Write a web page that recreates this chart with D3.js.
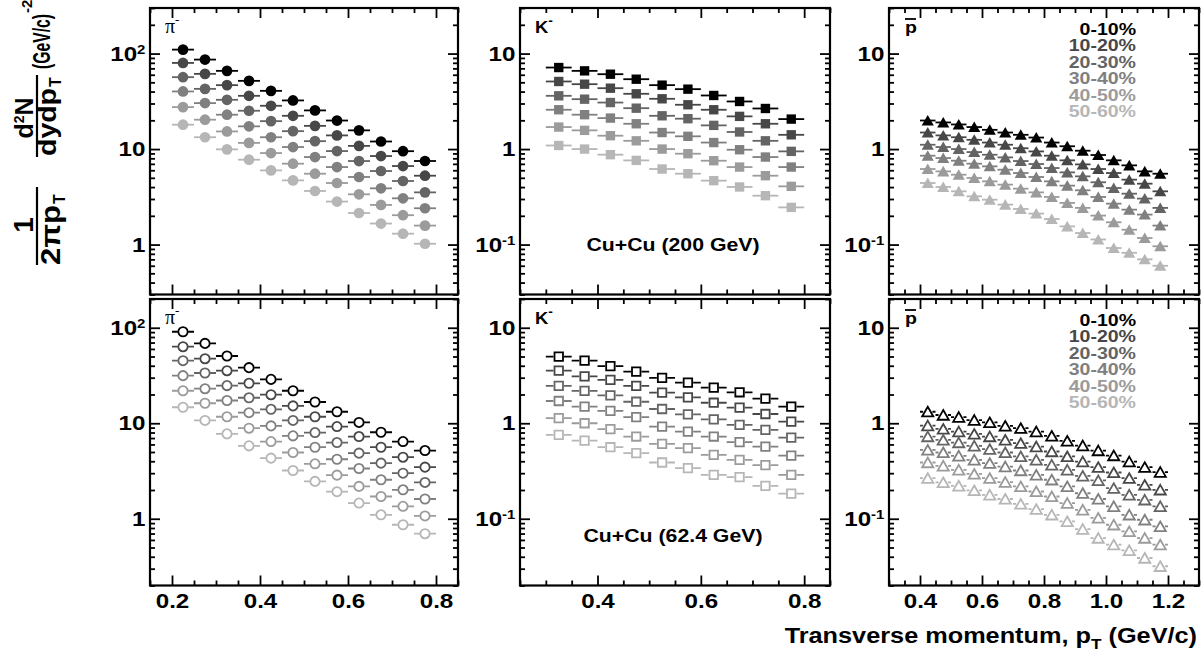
<!DOCTYPE html>
<html>
<head>
<meta charset="utf-8">
<script src="https://cdn.jsdelivr.net/npm/d3@7"></script>
<style>
  body { margin: 0; background: #ffffff; }
  svg text { font-family: "Liberation Sans", Arial, Helvetica, sans-serif; font-weight: bold; }
</style>
</head>
<body>
<svg id="chart" width="1202" height="668"></svg>
<script>
// centrality classes and the grey used for each
var centralities = ["0-10%", "10-20%", "20-30%", "30-40%", "40-50%", "50-60%"];
var shades = ["#000000", "#474747", "#646464", "#808080", "#9b9b9b", "#b6b6b6"];
var energies = ["Cu+Cu (200 GeV)", "Cu+Cu (62.4 GeV)"];

// bin centres (GeV/c)
var ptPi = [0.225, 0.275, 0.325, 0.375, 0.425, 0.475, 0.525, 0.575, 0.625, 0.675, 0.725, 0.775];
var ptK = [0.325, 0.375, 0.425, 0.475, 0.525, 0.575, 0.625, 0.675, 0.725, 0.775];
var ptP = [0.425, 0.475, 0.525, 0.575, 0.625, 0.675, 0.725, 0.775, 0.825, 0.875, 0.925, 0.975, 1.025, 1.075, 1.125, 1.175];

// yields, one row per centrality class
var piMinus200 = [
  [110, 86.5, 65.9, 51.8, 40.7, 32.3, 25.4, 19.9, 15.7, 12.0, 9.5, 7.5],
  [79.8, 61.3, 46.7, 36.1, 28.4, 22.3, 17.5, 13.9, 10.8, 8.45, 6.64, 5.26],
  [56.6, 42.7, 32.8, 25.2, 19.6, 15.4, 12.1, 9.53, 7.49, 5.89, 4.63, 3.52],
  [40.1, 30.3, 22.9, 17.3, 13.3, 10.5, 8.25, 6.48, 5.10, 3.88, 3.05, 2.40],
  [27.5, 20.3, 15.3, 11.6, 9.08, 7.03, 5.52, 4.41, 3.36, 2.60, 2.03, 1.58],
  [18.0, 13.3, 9.93, 7.74, 5.98, 4.70, 3.64, 2.82, 2.14, 1.66, 1.30, 1.02]
];
var kMinus200 = [
  [7.14, 6.59, 6.08, 5.39, 4.67, 4.24, 3.64, 3.15, 2.66, 2.06],
  [5.10, 4.78, 4.34, 3.79, 3.36, 2.91, 2.58, 2.20, 1.84, 1.41],
  [3.61, 3.33, 3.07, 2.68, 2.23, 2.08, 1.77, 1.51, 1.22, 0.946],
  [2.58, 2.29, 2.11, 1.84, 1.49, 1.36, 1.17, 0.984, 0.825, 0.648],
  [1.70, 1.57, 1.38, 1.22, 1.00, 0.894, 0.755, 0.648, 0.526, 0.407],
  [1.09, 1.00, 0.873, 0.761, 0.618, 0.552, 0.467, 0.401, 0.325, 0.245]
];
var pbar200 = [
  [1.99, 1.90, 1.81, 1.70, 1.59, 1.49, 1.41, 1.32, 1.17, 1.07, 0.961, 0.866, 0.762, 0.675, 0.584, 0.552],
  [1.49, 1.39, 1.33, 1.25, 1.17, 1.11, 1.02, 0.945, 0.852, 0.762, 0.691, 0.618, 0.561, 0.478, 0.434, 0.361],
  [1.11, 1.05, 1.00, 0.930, 0.872, 0.818, 0.749, 0.697, 0.633, 0.570, 0.518, 0.449, 0.391, 0.341, 0.303, 0.242],
  [0.852, 0.805, 0.755, 0.703, 0.659, 0.608, 0.561, 0.510, 0.459, 0.414, 0.370, 0.315, 0.268, 0.232, 0.206, 0.158],
  [0.618, 0.584, 0.539, 0.498, 0.459, 0.424, 0.385, 0.352, 0.315, 0.273, 0.242, 0.201, 0.171, 0.143, 0.117, 0.096],
  [0.441, 0.401, 0.361, 0.320, 0.295, 0.262, 0.236, 0.211, 0.185, 0.155, 0.132, 0.113, 0.092, 0.082, 0.070, 0.060]
];
var piMinus62 = [
  [90.8, 68.6, 50.6, 38.2, 28.8, 21.9, 16.7, 13.2, 10.2, 8.05, 6.43, 5.18],
  [63.3, 47.4, 35.5, 26.2, 19.9, 15.2, 11.7, 9.23, 7.26, 5.61, 4.41, 3.47],
  [45.2, 33.6, 24.8, 18.5, 14.0, 10.7, 7.99, 6.28, 4.86, 3.82, 3.00, 2.40],
  [31.5, 23.0, 17.3, 12.9, 9.38, 7.38, 5.61, 4.20, 3.36, 2.56, 2.01, 1.61],
  [21.9, 16.2, 11.7, 8.87, 6.43, 4.94, 3.76, 2.86, 2.18, 1.71, 1.35, 1.07],
  [14.7, 10.7, 7.74, 5.80, 4.31, 3.20, 2.46, 1.92, 1.46, 1.10, 0.865, 0.697]
];
var kMinus62 = [
  [4.98, 4.52, 3.97, 3.47, 2.98, 2.66, 2.36, 2.11, 1.81, 1.49],
  [3.55, 3.10, 2.84, 2.46, 2.09, 1.87, 1.64, 1.46, 1.25, 1.04],
  [2.46, 2.18, 1.96, 1.68, 1.41, 1.24, 1.10, 0.961, 0.852, 0.708],
  [1.71, 1.49, 1.35, 1.16, 0.923, 0.818, 0.726, 0.633, 0.570, 0.459],
  [1.13, 1.00, 0.866, 0.726, 0.608, 0.548, 0.467, 0.414, 0.364, 0.288],
  [0.755, 0.659, 0.561, 0.486, 0.388, 0.339, 0.288, 0.273, 0.221, 0.183]
];
var pbar62 = [
  [1.32, 1.22, 1.16, 1.08, 1.02, 0.938, 0.887, 0.818, 0.737, 0.653, 0.584, 0.518, 0.459, 0.397, 0.347, 0.308],
  [0.945, 0.872, 0.818, 0.774, 0.726, 0.669, 0.618, 0.570, 0.506, 0.449, 0.397, 0.347, 0.305, 0.266, 0.226, 0.201],
  [0.726, 0.669, 0.628, 0.580, 0.535, 0.494, 0.449, 0.414, 0.367, 0.325, 0.281, 0.252, 0.209, 0.178, 0.158, 0.135],
  [0.526, 0.494, 0.456, 0.414, 0.382, 0.352, 0.320, 0.288, 0.256, 0.218, 0.185, 0.161, 0.135, 0.110, 0.0976, 0.0832],
  [0.388, 0.358, 0.325, 0.295, 0.266, 0.242, 0.218, 0.193, 0.171, 0.146, 0.124, 0.102, 0.0865, 0.0737, 0.0628, 0.0535],
  [0.266, 0.240, 0.221, 0.198, 0.178, 0.161, 0.143, 0.126, 0.110, 0.0938, 0.078, 0.0628, 0.0535, 0.0467, 0.0388, 0.0318]
];

// axis ticks
var xTicksPi = [0.2, 0.4, 0.6, 0.8];
var xTicksK = [0.4, 0.6, 0.8];
var xTicksP = [0.4, 0.6, 0.8, 1.0, 1.2];
var yTicksPi = [1, 10, 100];
var yTicksKP = [0.1, 1, 10];

var SX = 1.15; // glyphs in the original are a bit wider than Liberation Sans

var svg = d3.select("#chart");

// frame geometry
var colLeft = [150, 520, 889], colRight = [458, 830, 1199];
var rowTop = [8, 299], rowBottom = [294.5, 585.5];
var xDomains = [[0.15, 0.85], [0.25, 0.85], [0.3, 1.3]];
var yDomains = [
  [[0.3, 300], [0.03, 30], [0.03, 30]],
  [[0.2, 200], [0.02, 20], [0.02, 20]]
];
var xMajor = [xTicksPi, xTicksK, xTicksP];
var yMajor = [yTicksPi, yTicksKP, yTicksKP];

var panels = [
  {row: 0, col: 0, pt: ptPi, data: piMinus200, type: d3.symbolCircle, size: 90, open: false, label: "pi"},
  {row: 0, col: 1, pt: ptK, data: kMinus200, type: d3.symbolSquare, size: 88, open: false, label: "K"},
  {row: 0, col: 2, pt: ptP, data: pbar200, type: d3.symbolTriangle, size: 64, open: false, label: "p"},
  {row: 1, col: 0, pt: ptPi, data: piMinus62, type: d3.symbolCircle, size: 68, open: true, label: "pi"},
  {row: 1, col: 1, pt: ptK, data: kMinus62, type: d3.symbolSquare, size: 72, open: true, label: "K"},
  {row: 1, col: 2, pt: ptP, data: pbar62, type: d3.symbolTriangle, size: 54, open: true, label: "p"}
];

function styleAxis(g, size) {
  g.select(".domain").remove();
  g.selectAll("line").attr("stroke-width", 1.8);
  g.selectAll("text").style("font-size", size + "px").attr("transform", "scale(" + SX + ",1)");
}

function powerLabel(t, v) {
  var e = Math.round(Math.log10(v));
  t.text(null);
  if (e == 0) { t.append("tspan").text("1"); return; }
  t.append("tspan").text("10");
  if (e != 1) {
    t.append("tspan").attr("dy", "-0.55em").style("font-size", "13px").text(e);
  }
}

panels.forEach(function(p) {
  var x0 = colLeft[p.col], x1 = colRight[p.col];
  var y0 = rowTop[p.row], y1 = rowBottom[p.row];
  var xd = xDomains[p.col], yd = yDomains[p.row][p.col];

  var x = d3.scaleLinear().domain(xd).range([x0, x1]);
  var y = d3.scaleLog().domain(yd).range([y1, y0]);

  var g = svg.append("g");

  // minor ticks every 0.05 in x, 2..9 per decade in y
  var xmaj = xMajor[p.col];
  var xmin = d3.range(xd[0], xd[1] + 1e-9, 0.05).filter(function(v) {
    return !xmaj.some(function(m) { return Math.abs(m - v) < 1e-6; });
  });
  var ymaj = yMajor[p.col];
  var ymin = [];
  for (var k = Math.floor(Math.log10(yd[0])); k <= Math.ceil(Math.log10(yd[1])); k++) {
    for (var m = 2; m <= 9; m++) {
      var v = m * Math.pow(10, k);
      if (v >= yd[0] && v <= yd[1]) ymin.push(v);
    }
  }

  // bottom
  g.append("g").attr("transform", "translate(0," + y1 + ")")
    .call(d3.axisBottom(x).tickValues(xmaj).tickSize(-10).tickPadding(8)
      .tickFormat(p.row == 1 ? d3.format(".1f") : ""))
    .call(function(a) { styleAxis(a, 21); });
  g.append("g").attr("transform", "translate(0," + y1 + ")")
    .call(d3.axisBottom(x).tickValues(xmin).tickSize(-5).tickFormat(""))
    .call(function(a) { styleAxis(a, 21); });
  // top
  g.append("g").attr("transform", "translate(0," + y0 + ")")
    .call(d3.axisTop(x).tickValues(xmaj).tickSize(-10).tickFormat(""))
    .call(function(a) { styleAxis(a, 21); });
  g.append("g").attr("transform", "translate(0," + y0 + ")")
    .call(d3.axisTop(x).tickValues(xmin).tickSize(-5).tickFormat(""))
    .call(function(a) { styleAxis(a, 21); });
  // left
  g.append("g").attr("transform", "translate(" + x0 + ",0)")
    .call(d3.axisLeft(y).tickValues(ymaj).tickSize(-10).tickPadding(4).tickFormat(function(d) { return d; }))
    .call(function(a) {
      styleAxis(a, 21);
      a.selectAll(".tick text").each(function(d) { powerLabel(d3.select(this), d); });
    });
  g.append("g").attr("transform", "translate(" + x0 + ",0)")
    .call(d3.axisLeft(y).tickValues(ymin).tickSize(-5).tickFormat(""))
    .call(function(a) { styleAxis(a, 21); });
  // right
  g.append("g").attr("transform", "translate(" + x1 + ",0)")
    .call(d3.axisRight(y).tickValues(ymaj).tickSize(-10).tickFormat(""))
    .call(function(a) { styleAxis(a, 21); });
  g.append("g").attr("transform", "translate(" + x1 + ",0)")
    .call(d3.axisRight(y).tickValues(ymin).tickSize(-5).tickFormat(""))
    .call(function(a) { styleAxis(a, 21); });

  // frame
  g.append("rect")
    .attr("x", x0).attr("y", y0)
    .attr("width", x1 - x0).attr("height", y1 - y0)
    .attr("fill", "none").attr("stroke", "#000").attr("stroke-width", 2.2);

  // data: horizontal bars over the bin width, then markers
  var half = (x(0.05) - x(0)) / 2;
  var sym = d3.symbol().type(p.type).size(p.size);
  var gap = p.open ? Math.sqrt(p.size) / 2 + 1 : 0;
  var dy = p.type === d3.symbolTriangle ? 1.5 : 0;

  p.data.forEach(function(vals, i) {
    var pts = vals.map(function(v, j) { return {x: p.pt[j], y: v}; });
    var sg = g.append("g");

    sg.selectAll("path.err")
      .data(pts)
      .enter()
      .append("path")
        .attr("class", "err")
        .attr("d", function(d) {
          var cx = x(d.x), cy = y(d.y);
          if (gap > 0) {
            return "M" + (cx - half) + "," + cy + "H" + (cx - gap) + "M" + (cx + gap) + "," + cy + "H" + (cx + half);
          }
          return "M" + (cx - half) + "," + cy + "H" + (cx + half);
        })
        .attr("stroke", shades[i])
        .attr("stroke-width", 1.8)
        .attr("fill", "none");

    sg.selectAll("path.mark")
      .data(pts)
      .enter()
      .append("path")
        .attr("class", "mark")
        .attr("d", sym)
        .attr("transform", function(d) { return "translate(" + x(d.x) + "," + (y(d.y) + dy) + ")"; })
        .attr("fill", p.open ? "none" : shades[i])
        .attr("stroke", p.open ? shades[i] : "none")
        .attr("stroke-width", 1.8);
  });

  // particle label
  var lx = x0 + 15, ly = y0 + 25;
  if (p.label == "pi") {
    var t = g.append("text").attr("x", lx).attr("y", ly)
      .style("font-family", "'Liberation Serif', 'DejaVu Serif', serif")
      .style("font-weight", "normal").style("font-size", "20px");
    t.append("tspan").text("π");
    t.append("tspan").attr("dy", -9).style("font-size", "13px").text("-");
  } else if (p.label == "K") {
    var t2 = g.append("g").attr("transform", "translate(" + lx + "," + ly + ") scale(" + SX + ",1)")
      .append("text").style("font-size", "16px");
    t2.append("tspan").text("K");
    t2.append("tspan").attr("dy", -8).style("font-size", "12px").text("-");
  } else {
    g.append("g").attr("transform", "translate(" + (lx + 1) + "," + ly + ") scale(" + SX + ",1)")
      .append("text").style("font-size", "17px").text("p");
    g.append("line")
      .attr("x1", lx + 1).attr("x2", lx + 12)
      .attr("y1", ly - 14).attr("y2", ly - 14)
      .attr("stroke", "#000").attr("stroke-width", 1.8);
  }

  // energy label in the kaon panels
  if (p.col == 1) {
    g.append("g").attr("transform", "translate(" + ((x0 + x1) / 2 - 2) + "," + (y1 - 44) + ") scale(" + SX + ",1)")
      .append("text").attr("text-anchor", "middle").style("font-size", "18.5px")
      .text(energies[p.row]);
  }

  // centrality legend in the antiproton panels
  if (p.col == 2) {
    centralities.forEach(function(c, i) {
      g.append("g").attr("transform", "translate(1136," + (y0 + 26.5 + i * 16.5) + ") scale(" + SX + ",1)")
        .append("text").attr("text-anchor", "end").style("font-size", "17px")
        .attr("fill", shades[i]).text(c);
    });
  }
});

// x axis title
var xt = svg.append("g").attr("transform", "translate(1197,643) scale(" + SX + ",1)")
  .append("text").attr("text-anchor", "end").style("font-size", "22px");
xt.append("tspan").text("Transverse momentum, p");
xt.append("tspan").attr("dy", 6).style("font-size", "15px").text("T");
xt.append("tspan").attr("dy", -6).text(" (GeV/c)");

// y axis title, drawn in a rotated frame: x = -screenY, y = screenX
var yt = svg.append("g").attr("transform", "rotate(-90)");
function piece(str, u, xb, size, anchor, len) {
  var t = yt.append("text").attr("x", u).attr("y", xb)
    .attr("text-anchor", anchor).style("font-size", size + "px").text(str);
  if (len) t.attr("textLength", len).attr("lengthAdjust", "spacingAndGlyphs");
  return t;
}
yt.append("line").attr("x1", -265).attr("x2", -187).attr("y1", 37).attr("y2", 37)
  .attr("stroke", "#000").attr("stroke-width", 2.2);
yt.append("line").attr("x1", -157).attr("x2", -75).attr("y1", 37).attr("y2", 37)
  .attr("stroke", "#000").attr("stroke-width", 2.2);

piece("1", -225, 33, 28, "middle");
piece("2πp", -265, 60, 27, "start", 60);
piece("T", -204, 65, 16, "start");

var num2 = piece("", -118, 33, 25, "middle");
num2.append("tspan").text("d");
num2.append("tspan").attr("dy", -9).style("font-size", "14px").text("2");
num2.append("tspan").attr("dy", 9).text("N");
piece("dydp", -156, 56, 25, "start", 68);
piece("T", -87, 61, 16, "start");

piece("(GeV/c)", -69, 50, 23, "start", 55);
piece("-2", -13, 32, 15, "start");
</script>
</body>
</html>
